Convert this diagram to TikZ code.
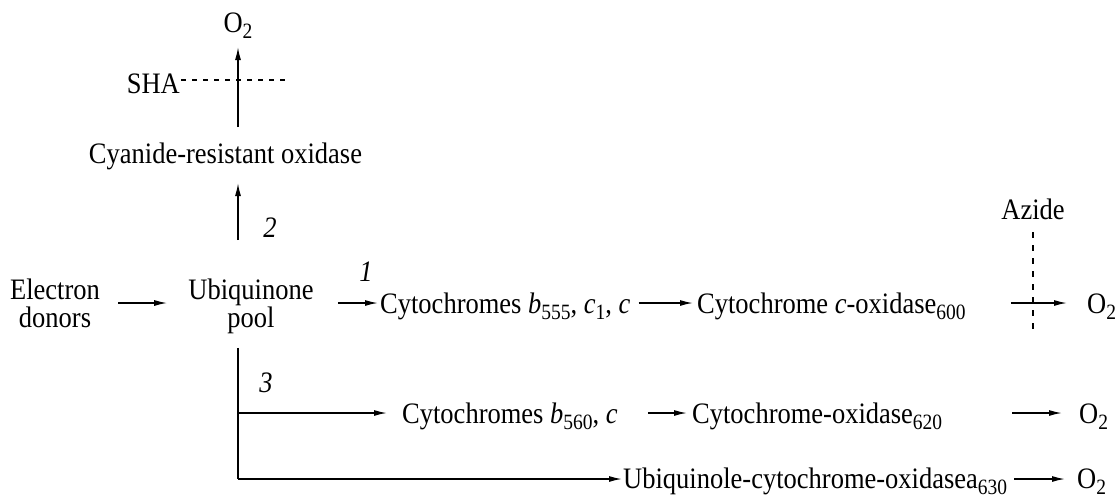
\documentclass[tikz,border=0pt]{standalone}
\usepackage{fontspec}
\setmainfont{Liberation Serif}
\usetikzlibrary{arrows.meta,calc}
\newcommand\st[1]{\scalebox{1}[1.12]{#1}}
\newcommand\sbs[1]{\raisebox{-5.5pt}{\fontsize{19.5}{19.5}\selectfont #1}}
\begin{document}
\begin{tikzpicture}[x=1pt,y=-1pt,
  font=\fontsize{26.5}{25}\selectfont,
  lbl/.style={inner sep=0pt},
  num/.style={inner sep=0pt, font=\fontsize{26.5}{25}\selectfont\itshape},
  two/.style={inner sep=0pt, align=center, font=\fontsize{26.5}{27.5}\selectfont},
  arr/.style={-{Latex[length=13pt,width=6pt]}, line width=1.4pt},
  ln/.style={line width=1.4pt},
  dsh/.style={line width=1.2pt, dash pattern=on 5pt off 6pt},
  vdsh/.style={line width=1.2pt, dash pattern=on 6pt off 7pt}]
\useasboundingbox (0,0) rectangle (1117,498);
\coordinate (trunk) at (238,0);
\coordinate (r1) at (0,303);
\coordinate (r3) at (0,413);
\coordinate (r4) at (0,479);
% top branch
\node[lbl,anchor=base] (o2top) at (238,32) {\st{O\sbs{2}}};
\node[lbl,anchor=base east] (sha) at (180,93) {\st{SHA}};
\coordinate (shaend) at (288,80);
\node[lbl,anchor=base] (cro) at (225.5,163) {\st{Cyanide-resistant oxidase}};
% main row
\node[two,anchor=north] (don) at (55,279) {\st{Electron}\\\st{donors}};
\node[two,anchor=north] (ubi) at (251,279) {\st{Ubiquinone}\\\st{pool}};
\node[lbl,anchor=base west] (cyt1) at (380,313) {\st{Cytochromes \textit{b}\sbs{555}, \textit{c}\sbs{1}, \textit{c}}};
\node[lbl,anchor=base west] (cox1) at (697,313) {\st{Cytochrome \textit{c}-oxidase\sbs{600}}};
\node[lbl,anchor=base west] (o2a) at (1087,313) {\st{O\sbs{2}}};
\node[lbl,anchor=base] (azide) at (1033,219) {\st{Azide}};
\coordinate (azend) at (1033,330);
% row 3
\node[lbl,anchor=base west] (cyt2) at (402,423) {\st{Cytochromes \textit{b}\sbs{560}, \textit{c}}};
\node[lbl,anchor=base west] (cox2) at (692,423) {\st{Cytochrome-oxidase\sbs{620}}};
\node[lbl,anchor=base west] (o2b) at (1079,423) {\st{O\sbs{2}}};
% row 4
\node[lbl,anchor=base west] (uco) at (623,488) {\st{Ubiquinole-cytochrome-oxidasea\sbs{630}}};
\node[lbl,anchor=base west] (o2c) at (1077,488) {\st{O\sbs{2}}};
% branch numbers
\node[num] (n1) at (366,272) {\st{1}};
\node[num] (n2) at (270,228) {\st{2}};
\node[num] (n3) at (266,383) {\st{3}};
% connectors: top
\draw[arr] ($(trunk |- cro.base)+(0,-36)$) -- ($(trunk |- o2top.base)+(0,15)$);
\draw[dsh] ($(sha.base east)+(1,-13)$) -- (shaend);
\draw[arr] ($(trunk |- ubi.north)+(0,-39)$) -- ($(trunk |- cro.base)+(0,20)$);
% main row
\draw[arr] ($(don.east |- r1)+(18,0)$) -- ($(ubi.west |- r1)+(-21,0)$);
\draw[arr] ($(ubi.east |- r1)+(24,0)$) -- ($(cyt1.base west)+(-2,-10)$);
\draw[arr] ($(cyt1.base east)+(8,-10)$) -- ($(cox1.base west)+(-4,-10)$);
\draw[arr] ($(cox1.base east)+(45,-10)$) -- ($(o2a.base west)+(-20,-10)$);
\draw[vdsh] ($(azide.base)+(0,13)$) -- (azend);
% lower trunk and rows 3, 4
\draw[ln] ($(trunk |- ubi.south)+(0,14)$) -- (trunk |- r4);
\draw[arr] (trunk |- r4) -- ($(uco.base west)+(-1,-9)$);
\draw[arr] (trunk |- r3) -- ($(cyt2.base west)+(-15,-10)$);
\draw[arr] ($(cyt2.base east)+(30,-10)$) -- ($(cox2.base west)+(-5,-10)$);
\draw[arr] ($(cox2.base east)+(70,-10)$) -- ($(o2b.base west)+(-17,-10)$);
\draw[arr] ($(uco.base east)+(7,-9)$) -- ($(o2c.base west)+(-12,-9)$);
\end{tikzpicture}
\end{document}
